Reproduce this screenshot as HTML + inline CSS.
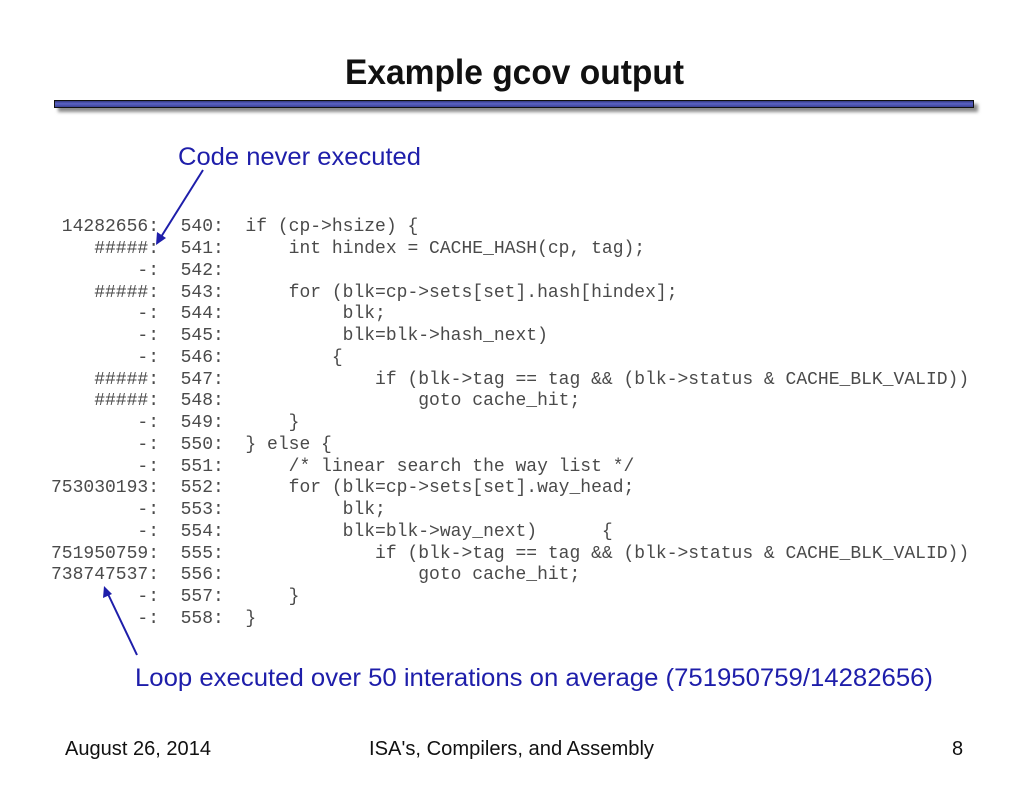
<!DOCTYPE html>
<html>
<head>
<meta charset="utf-8">
<style>
  html, body { margin:0; padding:0; background:#fff; }
  body { width:1024px; height:791px; position:relative; overflow:hidden; }
  svg { position:absolute; left:0; top:0; }
  pre {
    position:absolute; left:51px; top:217.3px; margin:0;
    font-family:"Liberation Mono", "Courier New", monospace;
    font-size:18px; line-height:21.75px; color:#4a4a4a;
  }
</style>
</head>
<body>
<svg width="1024" height="791" viewBox="0 0 1024 791" xmlns="http://www.w3.org/2000/svg">
  <defs>
    <linearGradient id="bar" x1="0" y1="0" x2="0" y2="1">
      <stop offset="0" stop-color="#2b3075"/>
      <stop offset="0.45" stop-color="#5a62c4"/>
      <stop offset="1" stop-color="#363b8c"/>
    </linearGradient>
    <filter id="blur" x="-5%" y="-100%" width="110%" height="300%">
      <feGaussianBlur stdDeviation="1.6"/>
    </filter>
  </defs>

  <!-- Title -->
  <text x="345" y="84" font-family="Liberation Sans, DejaVu Sans, sans-serif" font-weight="bold" font-size="35" fill="#111" textLength="339" lengthAdjust="spacingAndGlyphs">Example gcov output</text>

  <!-- title bar -->
  <rect x="58" y="104" width="920" height="8" fill="#8a8a8a" filter="url(#blur)"/>
  <rect x="54.5" y="100.5" width="919" height="7" fill="url(#bar)" stroke="#111" stroke-width="1"/>

  <!-- callout texts -->
  <text x="178" y="165" font-family="Liberation Sans, DejaVu Sans, sans-serif" font-size="25" fill="#1e1eaa" textLength="243" lengthAdjust="spacingAndGlyphs">Code never executed</text>
  <text x="135" y="686" font-family="Liberation Sans, DejaVu Sans, sans-serif" font-size="25" fill="#1e1eaa" textLength="798" lengthAdjust="spacingAndGlyphs">Loop executed over 50 interations on average (751950759/14282656)</text>

  <!-- arrows -->
  <line x1="203" y1="170" x2="161" y2="237" stroke="#1e1eaa" stroke-width="2"/>
  <polygon points="156,245 157,232 166,238" fill="#1e1eaa"/>
  <line x1="137" y1="655" x2="108" y2="594" stroke="#1e1eaa" stroke-width="2"/>
  <polygon points="104,586 103,598 112,594" fill="#1e1eaa"/>

  <!-- footer -->
  <text x="65" y="755" font-family="Liberation Sans, DejaVu Sans, sans-serif" font-size="20" fill="#111" textLength="146" lengthAdjust="spacingAndGlyphs">August 26, 2014</text>
  <text x="369" y="755" font-family="Liberation Sans, DejaVu Sans, sans-serif" font-size="20" fill="#111" textLength="285" lengthAdjust="spacingAndGlyphs">ISA's, Compilers, and Assembly</text>
  <text x="952" y="755" font-family="Liberation Sans, DejaVu Sans, sans-serif" font-size="20" fill="#111">8</text>
</svg>
<pre> 14282656:  540:  if (cp->hsize) {
    #####:  541:      int hindex = CACHE_HASH(cp, tag);
        -:  542:
    #####:  543:      for (blk=cp->sets[set].hash[hindex];
        -:  544:           blk;
        -:  545:           blk=blk->hash_next)
        -:  546:          {
    #####:  547:              if (blk->tag == tag &amp;&amp; (blk->status &amp; CACHE_BLK_VALID))
    #####:  548:                  goto cache_hit;
        -:  549:      }
        -:  550:  } else {
        -:  551:      /* linear search the way list */
753030193:  552:      for (blk=cp->sets[set].way_head;
        -:  553:           blk;
        -:  554:           blk=blk->way_next)      {
751950759:  555:              if (blk->tag == tag &amp;&amp; (blk->status &amp; CACHE_BLK_VALID))
738747537:  556:                  goto cache_hit;
        -:  557:      }
        -:  558:  }</pre>
</body>
</html>
